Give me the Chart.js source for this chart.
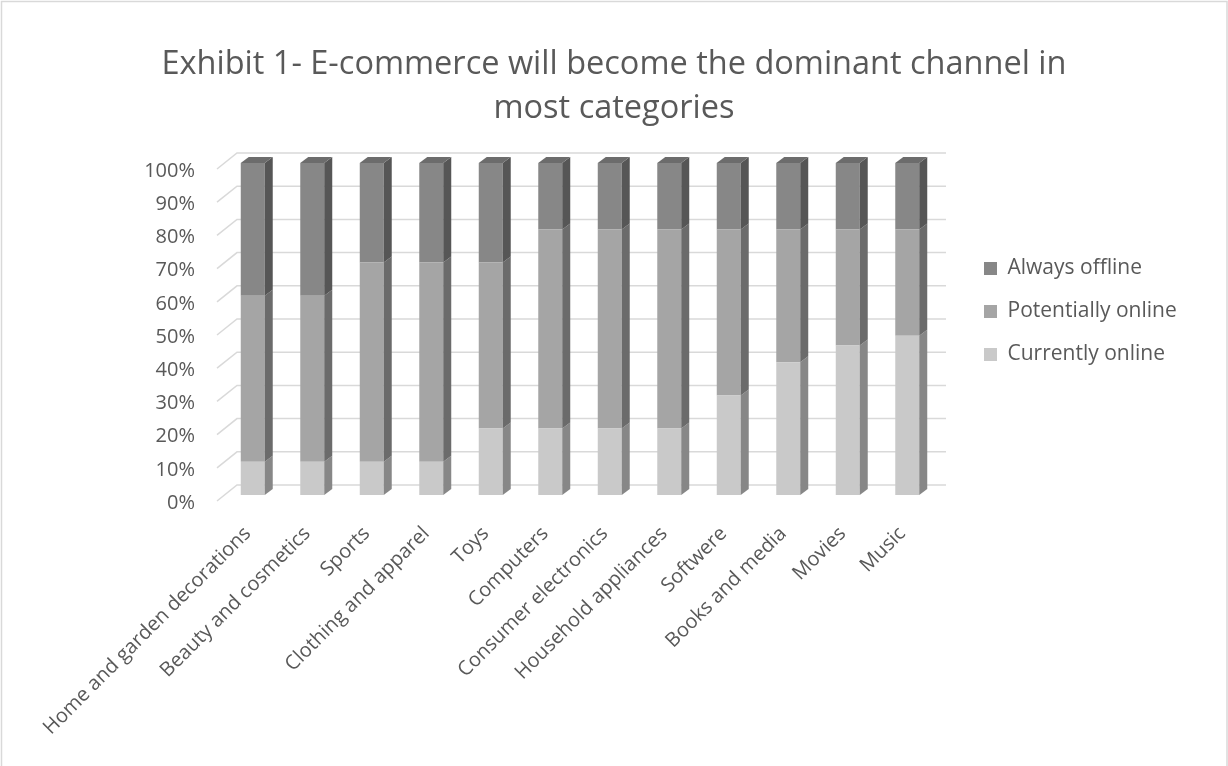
<!DOCTYPE html>
<html>
<head>
<meta charset="utf-8">
<script src="https://cdn.jsdelivr.net/npm/chart.js@4.4.1/dist/chart.umd.min.js"></script>
<style>
  html, body { margin: 0; padding: 0; background: #ffffff; }
  canvas { display: block; }
</style>
</head>
<body>
<canvas id="chart" width="1228" height="766"></canvas>
<script>
// ---- data ----
const categories = [
  "Home and garden decorations", "Beauty and cosmetics", "Sports", "Clothing and apparel",
  "Toys", "Computers", "Consumer electronics", "Household appliances",
  "Softwere", "Books and media", "Movies", "Music"
];
const currentlyOnline   = [10, 10, 10, 10, 20, 20, 20, 20, 30, 40, 45, 48];
const potentiallyOnline = [50, 50, 60, 60, 50, 60, 60, 60, 50, 40, 35, 32];
const alwaysOffline     = [40, 40, 30, 30, 30, 20, 20, 20, 20, 20, 20, 20];
const yTickLabels = ["0%", "10%", "20%", "30%", "40%", "50%", "60%", "70%", "80%", "90%", "100%"];
const seriesNames = ["Currently online", "Potentially online", "Always offline"];
const titleLines = ["Exhibit 1- E-commerce will become the dominant channel in", "most categories"];

// ---- styles ----
const FONT = '"Open Sans", "DejaVu Sans", sans-serif';
const TEXT = '#595959';
const GRID = '#d9d9d9';
const frontColors = ['#c9c9c9', '#a5a5a5', '#878787'];
const sideColors  = ['#878787', '#6b6b6b', '#565656'];
const topColor = '#6c6c6c';
const DX = 8, DY = 6;           // bar depth
const LEGEND_FONT = 21, LEGEND_PAD = 22, LEGEND_BOX = 13;
const LEGEND_LEFT = 962, DUMMY_W = 25;
const PLOT_LEFT = 223;

// measure legend text to place legend
const mctx = document.createElement('canvas').getContext('2d');
mctx.font = LEGEND_FONT + 'px ' + FONT;
const legendTextW = Math.max(...seriesNames.map(n => mctx.measureText(n).width));
const legendW = LEGEND_PAD + LEGEND_BOX + LEGEND_FONT / 2 + legendTextW + 10;
const padSide = Math.max(0, 1228 - LEGEND_LEFT - legendW);

const frame = {
  id: 'frame',
  beforeDraw(chart) {
    const ctx = chart.ctx;
    ctx.save();
    ctx.fillStyle = '#ffffff';
    ctx.fillRect(0, 0, chart.width, chart.height);
    ctx.strokeStyle = GRID;
    ctx.lineWidth = 1.5;
    ctx.strokeRect(1.5, 1.5, chart.width - 2.5, chart.height + 20);
    ctx.restore();
  }
};

const threeD = {
  id: 'threeD',
  beforeDatasetsDraw(chart) {
    const ctx = chart.ctx;
    const ys = chart.scales.y;
    const {left, right} = chart.chartArea;
    ctx.save();
    ctx.strokeStyle = GRID;
    ctx.lineWidth = 1.5;
    ys.ticks.forEach(t => {
      const yv = ys.getPixelForValue(t.value);
      ctx.beginPath();
      ctx.moveTo(left - 6, yv + 6);
      ctx.lineTo(left + 14, yv - 10);
      ctx.lineTo(right + 9, yv - 10);
      ctx.stroke();
    });
    ctx.restore();
  },
  afterDatasetsDraw(chart) {
    const ctx = chart.ctx;
    const last = chart.data.datasets.length - 1;
    ctx.save();
    chart.data.datasets.forEach((ds, di) => {
      const meta = chart.getDatasetMeta(di);
      meta.data.forEach(bar => {
        const {x, y, base, width} = bar.getProps(['x', 'y', 'base', 'width'], true);
        const l = x - width / 2, r = x + width / 2;
        ctx.fillStyle = sideColors[di];
        ctx.beginPath();
        ctx.moveTo(r, y);
        ctx.lineTo(r + DX, y - DY);
        ctx.lineTo(r + DX, base - DY);
        ctx.lineTo(r, base);
        ctx.closePath();
        ctx.fill();
        if (di === last) {
          ctx.fillStyle = topColor;
          ctx.beginPath();
          ctx.moveTo(l, y);
          ctx.lineTo(l + DX, y - DY);
          ctx.lineTo(r + DX, y - DY);
          ctx.lineTo(r, y);
          ctx.closePath();
          ctx.fill();
        }
      });
    });
    ctx.restore();
  }
};

const seriesData = [currentlyOnline, potentiallyOnline, alwaysOffline];

new Chart(document.getElementById('chart'), {
  type: 'bar',
  data: {
    labels: categories,
    datasets: seriesNames.map((name, i) => ({
      label: name,
      data: seriesData[i],
      backgroundColor: frontColors[i],
      borderWidth: 0,
      barPercentage: 0.403,
      categoryPercentage: 1.0
    }))
  },
  options: {
    responsive: false,
    animation: false,
    devicePixelRatio: 1,
    layout: { padding: { left: padSide, right: padSide, top: 0, bottom: 0 } },
    plugins: {
      title: {
        display: true,
        text: titleLines,
        color: TEXT,
        font: { family: FONT, size: 32.5, weight: 'normal', lineHeight: '44px' },
        padding: { top: 43, bottom: 32 }
      },
      legend: {
        position: 'right',
        align: 'start',
        reverse: true,
        maxWidth: 400,
        title: { display: true, text: '', font: { size: 10, lineHeight: 1.2 }, padding: { top: 224, bottom: 0 } },
        labels: {
          boxWidth: LEGEND_BOX,
          boxHeight: LEGEND_BOX,
          padding: LEGEND_PAD,
          color: TEXT,
          font: { family: FONT, size: LEGEND_FONT }
        }
      },
      tooltip: { enabled: false }
    },
    scales: {
      x: {
        stacked: true,
        grid: { display: false, drawTicks: false },
        border: { display: false },
        ticks: {
          color: TEXT,
          font: { family: FONT, size: 20 },
          maxRotation: 45,
          minRotation: 45,
          autoSkip: false,
          padding: 27,
          labelOffset: -5
        },
        afterFit(s) { s.height = 271; s.paddingLeft = 0; s.paddingRight = 0; }
      },
      y: {
        stacked: true,
        min: 0,
        max: 100,
        grid: { display: false, drawTicks: false },
        border: { display: false },
        ticks: {
          stepSize: 10,
          color: TEXT,
          font: { family: FONT, size: 20 },
          padding: 28,
          labelOffset: 8,
          callback: (v, i) => yTickLabels[i]
        },
        afterFit(s) { s.width = PLOT_LEFT - padSide; s.paddingTop = 0; s.paddingBottom = 0; }
      },
      yRight: {
        type: 'linear',
        position: 'right',
        display: true,
        grid: { display: false, drawTicks: false },
        border: { display: false },
        ticks: { display: false },
        afterFit(s) { s.width = DUMMY_W; s.paddingTop = 0; s.paddingBottom = 0; }
      }
    }
  },
  plugins: [frame, threeD]
});
</script>
</body>
</html>
